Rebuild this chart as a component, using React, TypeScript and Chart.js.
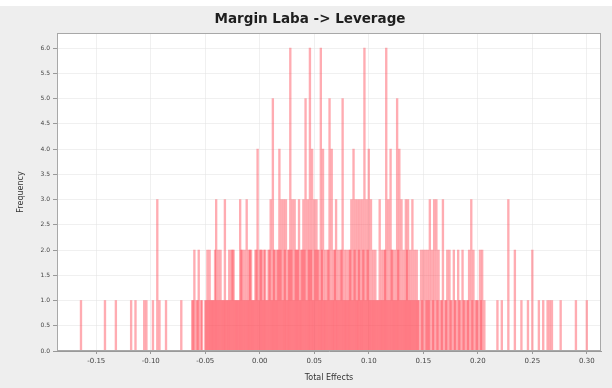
import React, { useEffect, useRef } from "react";
import { Chart, registerables } from "chart.js";

Chart.register(...registerables);

const chartTitle = "Margin Laba -> Leverage";
const xAxisTitle = "Total Effects";
const yAxisTitle = "Frequency";

// bin centres (Total Effects) of non-empty bins, even thousandths
const binCenters = [
  -0.164, -0.142, -0.132, -0.118, -0.114, -0.106, -0.104, -0.098, -0.094, -0.092, -0.086, -0.072,
  -0.062, -0.060, -0.058, -0.056, -0.054, -0.050, -0.048, -0.046, -0.044, -0.042, -0.040, -0.038,
  -0.036, -0.034, -0.032, -0.030, -0.028, -0.026, -0.024, -0.022, -0.020, -0.018, -0.016, -0.014,
  -0.012, -0.010, -0.008, -0.006, -0.004, -0.002, 0.000, 0.002, 0.004, 0.006, 0.008, 0.010,
  0.012, 0.014, 0.016, 0.018, 0.020, 0.022, 0.024, 0.026, 0.028, 0.030, 0.032, 0.034,
  0.036, 0.038, 0.040, 0.042, 0.044, 0.046, 0.048, 0.050, 0.052, 0.054, 0.056, 0.058,
  0.060, 0.062, 0.064, 0.066, 0.068, 0.070, 0.072, 0.074, 0.076, 0.078, 0.080, 0.082,
  0.084, 0.086, 0.088, 0.090, 0.092, 0.094, 0.096, 0.098, 0.100, 0.102, 0.104, 0.106,
  0.108, 0.110, 0.112, 0.114, 0.116, 0.118, 0.120, 0.122, 0.124, 0.126, 0.128, 0.130,
  0.132, 0.134, 0.136, 0.138, 0.140, 0.142, 0.144, 0.146, 0.148, 0.150, 0.152, 0.154,
  0.156, 0.158, 0.160, 0.162, 0.164, 0.166, 0.168, 0.170, 0.172, 0.174, 0.176, 0.178,
  0.180, 0.182, 0.184, 0.186, 0.188, 0.190, 0.192, 0.194, 0.196, 0.198, 0.200, 0.202,
  0.204, 0.206, 0.218, 0.222, 0.228, 0.234, 0.240, 0.246, 0.250, 0.256, 0.260, 0.264,
  0.266, 0.268, 0.276, 0.290, 0.300,
];

// frequency of each bin above
const frequencies = [
  1, 1, 1, 1, 1, 1, 1, 1, 3, 1, 1, 1,
  1, 2, 1, 2, 1, 1, 2, 2, 1, 1, 3, 2,
  2, 1, 3, 1, 2, 2, 2, 1, 1, 3, 2, 2,
  3, 2, 2, 1, 2, 4, 2, 2, 2, 1, 2, 3,
  5, 2, 2, 4, 3, 3, 3, 2, 6, 3, 3, 2,
  3, 2, 3, 5, 3, 6, 4, 3, 3, 2, 6, 4,
  2, 2, 5, 4, 2, 3, 2, 2, 5, 2, 2, 2,
  3, 4, 3, 3, 3, 3, 6, 3, 4, 3, 2, 2,
  1, 3, 2, 2, 6, 3, 4, 2, 2, 5, 4, 3,
  2, 3, 3, 2, 3, 2, 2, 1, 2, 2, 2, 2,
  3, 2, 3, 3, 2, 1, 3, 1, 2, 2, 1, 2,
  1, 2, 1, 2, 1, 1, 2, 3, 2, 1, 1, 2,
  2, 1, 1, 1, 3, 2, 1, 1, 2, 1, 1, 1,
  1, 1, 1, 1, 1,
];

// bin centres of non-empty bins, odd thousandths (dense middle region)
const fineBinCenters = [
  -0.061, -0.057, -0.053, -0.049, -0.047, -0.045, -0.043, -0.041, -0.039, -0.037, -0.035, -0.033,
  -0.031, -0.029, -0.027, -0.025, -0.023, -0.021, -0.019, -0.017, -0.015, -0.013, -0.011, -0.009,
  -0.007, -0.005, -0.003, -0.001, 0.001, 0.003, 0.005, 0.007, 0.009, 0.011, 0.013, 0.015,
  0.017, 0.019, 0.021, 0.023, 0.025, 0.027, 0.029, 0.031, 0.033, 0.035, 0.037, 0.039,
  0.041, 0.043, 0.045, 0.047, 0.049, 0.051, 0.053, 0.055, 0.057, 0.059, 0.061, 0.063,
  0.065, 0.067, 0.069, 0.071, 0.073, 0.075, 0.077, 0.079, 0.081, 0.083, 0.085, 0.087,
  0.089, 0.091, 0.093, 0.095, 0.097, 0.099, 0.101, 0.103, 0.105, 0.107, 0.109, 0.111,
  0.113, 0.115, 0.117, 0.119, 0.121, 0.123, 0.125, 0.127, 0.129, 0.131, 0.133, 0.135,
  0.137, 0.139, 0.141, 0.143, 0.145, 0.149, 0.153, 0.155, 0.159, 0.163, 0.167, 0.171,
  0.175, 0.179, 0.183, 0.187, 0.191, 0.195, 0.199, 0.203,
];

// frequency of each fine bin above
const fineFrequencies = [
  1, 1, 1, 1, 1, 1, 1, 2, 1, 1, 1, 1,
  1, 1, 1, 2, 1, 1, 1, 2, 1, 1, 1, 2,
  1, 1, 2, 1, 2, 1, 2, 1, 2, 1, 2, 1,
  2, 2, 1, 2, 1, 2, 2, 1, 2, 2, 1, 2,
  2, 1, 2, 2, 1, 2, 2, 1, 2, 1, 1, 2,
  1, 1, 2, 1, 1, 2, 1, 1, 1, 2, 1, 2,
  1, 2, 1, 2, 1, 2, 1, 1, 1, 1, 1, 1,
  1, 2, 1, 1, 2, 1, 1, 2, 1, 1, 1, 2,
  1, 1, 1, 1, 1, 1, 1, 1, 1, 1, 1, 1,
  1, 1, 1, 1, 1, 1, 1, 1,
];

const yTickStep = 0.5;
const xTickStep = 0.05;
const xMin = -0.186;
const xMax = 0.313;
const yMax = 6.3;

const bgPlugin = {
  id: "bgPlugin",
  beforeDraw(chart: any) {
    const { ctx, chartArea } = chart;
    ctx.save();
    ctx.fillStyle = "#eeeeee";
    ctx.fillRect(0, 0, chart.width, chart.height);
    ctx.fillStyle = "#ffffff";
    ctx.fillRect(0, 0, chart.width, 6);
    ctx.fillStyle = "#ffffff";
    ctx.fillRect(chartArea.left, chartArea.top, chartArea.right - chartArea.left, chartArea.bottom - chartArea.top);
    ctx.restore();
  },
  afterDraw(chart: any) {
    const { ctx, chartArea } = chart;
    ctx.save();
    ctx.strokeStyle = "#a8a8a8";
    ctx.lineWidth = 1;
    ctx.strokeRect(chartArea.left + 0.5, chartArea.top + 0.5, chartArea.right - chartArea.left - 1, chartArea.bottom - chartArea.top - 1);
    ctx.fillStyle = "#1e1e1e";
    ctx.font = "bold 13.5px 'DejaVu Sans'";
    ctx.textAlign = "center";
    ctx.textBaseline = "middle";
    ctx.fillText(chartTitle, 310, 19);
    ctx.restore();
  },
};

export default function App() {
  const ref = useRef<HTMLCanvasElement | null>(null);
  useEffect(() => {
    if (!ref.current) return;
    const points = binCenters
      .map((x, i) => ({ x, y: frequencies[i] }))
      .concat(fineBinCenters.map((x, i) => ({ x, y: fineFrequencies[i] })));
    const chart = new Chart(ref.current, {
      type: "bar",
      data: {
        datasets: [
          {
            data: points as any,
            backgroundColor: "rgba(255, 70, 85, 0.45)",
            borderWidth: 0,
            barThickness: 1.7,
            grouped: false,
          } as any,
        ],
      },
      options: {
        animation: false,
        responsive: false,
        maintainAspectRatio: false,
        layout: { padding: { left: 16, right: 11, top: 33, bottom: 5 } },
        plugins: {
          legend: { display: false },
          tooltip: { enabled: false },
          title: { display: false },
        },
        scales: {
          x: {
            type: "linear",
            min: xMin,
            max: xMax,
            offset: false,
            grid: { color: "rgba(225,225,225,0.5)", offset: false, tickLength: 3, tickColor: "#999" },
            border: { color: "#999999" },
            ticks: {
              stepSize: xTickStep,
              includeBounds: false,
              color: "#444444",
              font: { family: "DejaVu Sans", size: 7 },
              padding: 3,
              maxRotation: 0,
              autoSkip: false,
              callback: (v: any) => Number(v).toFixed(2),
            },
            title: {
              display: true,
              text: xAxisTitle,
              color: "#333333",
              font: { family: "DejaVu Sans", size: 8 },
              padding: { top: 2, bottom: 0 },
            },
            afterFit: (s: any) => {
              s.height = 32;
            },
          },
          y: {
            type: "linear",
            min: 0,
            max: yMax,
            grid: { color: "rgba(225,225,225,0.5)", tickLength: 4, tickColor: "#999" },
            border: { color: "#999999" },
            ticks: {
              stepSize: yTickStep,
              includeBounds: false,
              color: "#444444",
              font: { family: "DejaVu Sans", size: 6 },
              padding: 3,
              autoSkip: false,
              callback: (v: any) => Number(v).toFixed(1),
            },
            title: {
              display: true,
              text: yAxisTitle,
              color: "#333333",
              font: { family: "DejaVu Sans", size: 8 },
              padding: { top: 0, bottom: 2 },
            },
            afterFit: (s: any) => {
              s.width = 41;
            },
          },
        },
      },
      plugins: [bgPlugin],
    });
    return () => chart.destroy();
  }, []);
  return (
    <div style={{ position: "fixed", left: 0, top: 0, width: 612, height: 388 }}>
      <canvas ref={ref} width={612} height={388} style={{ width: 612, height: 388, display: "block" }} />
    </div>
  );
}
